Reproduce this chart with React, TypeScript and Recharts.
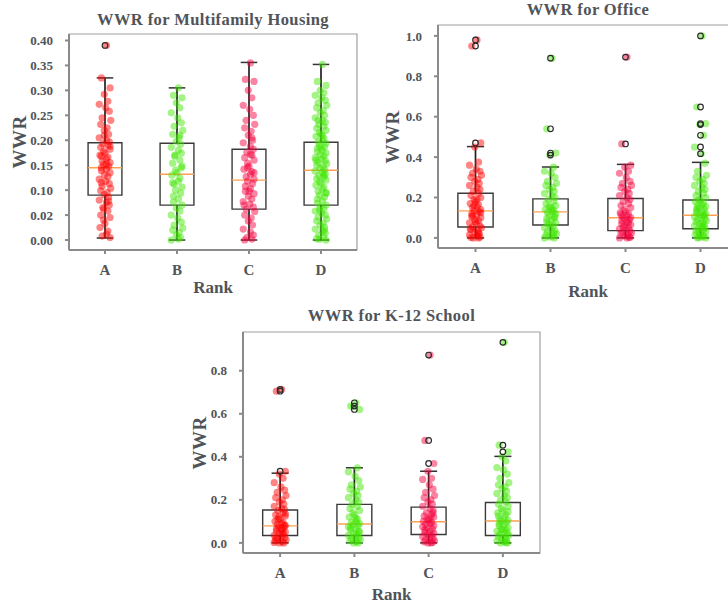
import { ScatterChart, Scatter, XAxis, YAxis, ReferenceArea, ReferenceLine } from 'recharts';

const RANKS = ['A', 'B', 'C', 'D'];
const COLORS = ['#ff0000', '#3ee600', '#f5003d', '#3ee600'];
const TEXT = '#505458';
const FONT = '"Liberation Serif", "DejaVu Serif", serif';

// horizontal strip offsets (in category units)
const JITTER = [0.02, -0.05, 0.07, -0.01, 0.04, -0.08, 0.01, 0.06, -0.04, 0.08, -0.06, 0.03, -0.01, 0.05, -0.08, 0.02, 0.06, -0.03, 0.04, -0.06, 0.07, -0.02, 0.0, -0.07, 0.04, 0.02, -0.04, 0.07, -0.02, 0.05, -0.05];

// ---- Multifamily Housing
const MF_A = [0.39, 0.325, 0.305, 0.292, 0.278, 0.272, 0.265, 0.258, 0.245, 0.24, 0.232, 0.225, 0.22, 0.212, 0.205, 0.2, 0.197, 0.193, 0.19, 0.186, 0.182, 0.178, 0.174, 0.17, 0.166, 0.162, 0.158, 0.155, 0.151, 0.148, 0.145, 0.142, 0.139, 0.135, 0.131, 0.127, 0.122, 0.118, 0.113, 0.108, 0.104, 0.099, 0.095, 0.091, 0.086, 0.08, 0.075, 0.07, 0.065, 0.058, 0.05, 0.045, 0.04, 0.033, 0.025, 0.018, 0.012, 0.008, 0.005, 0.062, 0.078, 0.115, 0.152, 0.168, 0.188, 0.21];
const MF_B = [0.305, 0.29, 0.285, 0.275, 0.265, 0.255, 0.245, 0.235, 0.228, 0.22, 0.212, 0.205, 0.198, 0.192, 0.186, 0.18, 0.174, 0.168, 0.16, 0.154, 0.148, 0.14, 0.135, 0.13, 0.124, 0.118, 0.112, 0.106, 0.1, 0.094, 0.088, 0.082, 0.076, 0.07, 0.064, 0.058, 0.05, 0.044, 0.036, 0.03, 0.024, 0.02, 0.015, 0.01, 0.005, 0.0, 0.002, 0.145, 0.17, 0.21, 0.115];
const MF_C = [0.355, 0.322, 0.318, 0.3, 0.285, 0.27, 0.262, 0.25, 0.24, 0.232, 0.225, 0.218, 0.21, 0.2, 0.195, 0.188, 0.182, 0.176, 0.17, 0.165, 0.16, 0.154, 0.148, 0.142, 0.137, 0.132, 0.127, 0.122, 0.118, 0.113, 0.108, 0.103, 0.098, 0.093, 0.088, 0.082, 0.077, 0.072, 0.066, 0.062, 0.057, 0.05, 0.044, 0.038, 0.03, 0.022, 0.016, 0.01, 0.005, 0.002, 0.0, 0.135, 0.145, 0.098, 0.07, 0.205, 0.172];
const MF_D = [0.352, 0.318, 0.31, 0.3, 0.295, 0.29, 0.285, 0.28, 0.275, 0.27, 0.265, 0.26, 0.255, 0.25, 0.245, 0.24, 0.236, 0.232, 0.228, 0.224, 0.22, 0.216, 0.212, 0.208, 0.204, 0.2, 0.197, 0.194, 0.19, 0.187, 0.184, 0.18, 0.177, 0.174, 0.171, 0.168, 0.165, 0.162, 0.159, 0.156, 0.153, 0.15, 0.147, 0.144, 0.141, 0.138, 0.135, 0.132, 0.129, 0.126, 0.123, 0.12, 0.117, 0.114, 0.11, 0.106, 0.102, 0.098, 0.094, 0.09, 0.086, 0.082, 0.078, 0.074, 0.07, 0.066, 0.062, 0.058, 0.054, 0.05, 0.046, 0.042, 0.038, 0.034, 0.03, 0.026, 0.022, 0.018, 0.014, 0.01, 0.006, 0.003, 0.0, 0.001, 0.185, 0.16, 0.13, 0.21, 0.24, 0.095, 0.06, 0.02];
const MF_Q1 = [0.09, 0.07, 0.062, 0.07];
const MF_MED = [0.145, 0.132, 0.12, 0.14];
const MF_Q3 = [0.195, 0.194, 0.182, 0.196];
const MF_LO = [0.004, 0, 0, 0];
const MF_HI = [0.325, 0.305, 0.356, 0.352];
const MF_OUT = [[0.39], [], [], []];
const MF_TICKS = [0, 0.05, 0.1, 0.15, 0.2, 0.25, 0.3, 0.35, 0.4];
const MF_TICK_LABELS = ['0.00', '0.02', '0.10', '0.15', '0.20', '0.25', '0.30', '0.35', '0.40'];

// ---- Office
const OF_A = [0.98, 0.95, 0.47, 0.45, 0.375, 0.36, 0.34, 0.33, 0.32, 0.31, 0.3, 0.29, 0.28, 0.27, 0.26, 0.25, 0.24, 0.23, 0.22, 0.21, 0.2, 0.19, 0.18, 0.17, 0.165, 0.155, 0.15, 0.14, 0.135, 0.13, 0.12, 0.115, 0.105, 0.1, 0.09, 0.085, 0.075, 0.07, 0.06, 0.055, 0.05, 0.04, 0.035, 0.03, 0.02, 0.015, 0.01, 0.005, 0.0, 0.0, 0.002, 0.125, 0.16, 0.08, 0.045, 0.025, 0.19, 0.11];
const OF_B = [0.89, 0.54, 0.42, 0.41, 0.35, 0.33, 0.32, 0.3, 0.28, 0.27, 0.26, 0.25, 0.24, 0.23, 0.22, 0.21, 0.2, 0.19, 0.18, 0.17, 0.16, 0.155, 0.15, 0.14, 0.135, 0.13, 0.125, 0.12, 0.11, 0.1, 0.095, 0.09, 0.08, 0.075, 0.065, 0.06, 0.05, 0.045, 0.035, 0.03, 0.02, 0.015, 0.01, 0.005, 0.0, 0.0, 0.145, 0.105, 0.07, 0.025];
const OF_C = [0.895, 0.465, 0.36, 0.35, 0.33, 0.32, 0.3, 0.28, 0.27, 0.26, 0.25, 0.24, 0.23, 0.22, 0.21, 0.2, 0.19, 0.18, 0.17, 0.16, 0.15, 0.14, 0.13, 0.125, 0.12, 0.11, 0.105, 0.1, 0.095, 0.09, 0.085, 0.08, 0.07, 0.065, 0.06, 0.05, 0.045, 0.04, 0.035, 0.03, 0.025, 0.02, 0.015, 0.01, 0.005, 0.0, 0.0, 0.002, 0.055, 0.075, 0.115];
const OF_D = [1.0, 0.648, 0.566, 0.561, 0.508, 0.45, 0.417, 0.37, 0.33, 0.31, 0.3, 0.29, 0.28, 0.27, 0.26, 0.25, 0.24, 0.23, 0.22, 0.21, 0.2, 0.19, 0.185, 0.18, 0.17, 0.165, 0.16, 0.155, 0.15, 0.14, 0.135, 0.13, 0.125, 0.12, 0.115, 0.11, 0.105, 0.1, 0.095, 0.09, 0.085, 0.08, 0.075, 0.07, 0.065, 0.06, 0.055, 0.05, 0.045, 0.04, 0.035, 0.03, 0.025, 0.02, 0.015, 0.01, 0.005, 0.0, 0.0, 0.002, 0.112, 0.145, 0.06];
const OF_Q1 = [0.054, 0.064, 0.036, 0.045];
const OF_MED = [0.134, 0.129, 0.1, 0.112];
const OF_Q3 = [0.221, 0.193, 0.195, 0.188];
const OF_LO = [0, 0, 0, 0];
const OF_HI = [0.452, 0.351, 0.364, 0.374];
const OF_OUT = [[0.47, 0.95, 0.98], [0.41, 0.42, 0.54, 0.89], [0.465, 0.895], [0.417, 0.45, 0.508, 0.561, 0.566, 0.648, 1.0]];
const OF_TICKS = [0, 0.2, 0.4, 0.6, 0.8, 1.0];
const OF_TICK_LABELS = ['0.0', '0.2', '0.4', '0.6', '0.8', '1.0'];

// ---- K-12 School
const KS_A = [0.713, 0.705, 0.333, 0.32, 0.3, 0.28, 0.26, 0.245, 0.235, 0.22, 0.21, 0.2, 0.19, 0.18, 0.17, 0.16, 0.155, 0.15, 0.14, 0.13, 0.125, 0.12, 0.11, 0.1, 0.095, 0.09, 0.085, 0.08, 0.075, 0.07, 0.065, 0.06, 0.055, 0.05, 0.045, 0.04, 0.035, 0.03, 0.025, 0.02, 0.015, 0.01, 0.005, 0.0, 0.0, 0.002, 0.065, 0.082, 0.11, 0.045, 0.022, 0.135];
const KS_B = [0.651, 0.636, 0.62, 0.635, 0.349, 0.33, 0.31, 0.29, 0.27, 0.26, 0.25, 0.24, 0.23, 0.22, 0.21, 0.2, 0.19, 0.18, 0.17, 0.16, 0.15, 0.14, 0.13, 0.12, 0.11, 0.1, 0.095, 0.09, 0.085, 0.08, 0.07, 0.065, 0.06, 0.05, 0.045, 0.04, 0.035, 0.03, 0.025, 0.02, 0.015, 0.01, 0.005, 0.0, 0.0, 0.075, 0.115, 0.055];
const KS_C = [0.873, 0.476, 0.369, 0.333, 0.3, 0.295, 0.27, 0.25, 0.235, 0.22, 0.21, 0.2, 0.19, 0.18, 0.17, 0.16, 0.15, 0.14, 0.13, 0.125, 0.12, 0.11, 0.105, 0.1, 0.095, 0.09, 0.085, 0.08, 0.07, 0.065, 0.06, 0.055, 0.05, 0.045, 0.04, 0.035, 0.03, 0.025, 0.02, 0.015, 0.01, 0.005, 0.0, 0.0, 0.002, 0.075, 0.115, 0.14];
const KS_D = [0.932, 0.454, 0.423, 0.4, 0.38, 0.35, 0.34, 0.32, 0.3, 0.28, 0.27, 0.26, 0.25, 0.24, 0.23, 0.22, 0.21, 0.2, 0.19, 0.18, 0.17, 0.16, 0.15, 0.14, 0.13, 0.12, 0.11, 0.105, 0.1, 0.095, 0.09, 0.085, 0.08, 0.07, 0.065, 0.06, 0.055, 0.05, 0.045, 0.04, 0.035, 0.03, 0.025, 0.02, 0.015, 0.01, 0.005, 0.0, 0.0, 0.002, 0.125, 0.145, 0.062];
const KS_Q1 = [0.034, 0.034, 0.039, 0.034];
const KS_MED = [0.079, 0.088, 0.098, 0.102];
const KS_Q3 = [0.153, 0.179, 0.166, 0.188];
const KS_LO = [0, 0, 0, 0];
const KS_HI = [0.324, 0.349, 0.333, 0.402];
const KS_OUT = [[0.333, 0.705, 0.713], [0.62, 0.636, 0.651], [0.369, 0.476, 0.873], [0.423, 0.454, 0.932]];
const KS_TICKS = [0, 0.2, 0.4, 0.6, 0.8];
const KS_TICK_LABELS = ['0.0', '0.2', '0.4', '0.6', '0.8'];

type PanelProps = {
  title: string;
  groups: number[][];
  q1: number[];
  med: number[];
  q3: number[];
  lo: number[];
  hi: number[];
  outliers: number[][];
  yDomain: [number, number];
  yTicks: number[];
  yTickLabels: string[];
  left: number;
  top: number;
  width: number;
  height: number;
  margin: { top: number; right: number; bottom: number; left: number };
  titleY: number;
  yLabelX: number;
  rankY: number;
};

const Dot = (color: string) => (p: any) => (
  <circle cx={p.cx} cy={p.cy} r={3.6} fill={color} fillOpacity={0.48} />
);
const Ring = (p: any) => <circle cx={p.cx} cy={p.cy} r={2.8} fill="none" stroke="#2a2a2a" strokeWidth={1.2} />;

function Panel(props: PanelProps) {
  const { groups, q1, med, q3, lo, hi, outliers, yDomain, yTicks, yTickLabels, margin, width, height } = props;
  const yAxisW = 40;
  const plotL = props.left + margin.left + yAxisW;
  const plotR = props.left + width - margin.right;
  const plotT = props.top + margin.top;
  const plotB = props.top + height - margin.bottom - 30;
  const cx = (plotL + plotR) / 2;
  const label = (style: React.CSSProperties, text: string) => (
    <div style={{ position: 'absolute', fontFamily: FONT, fontWeight: 700, color: TEXT, whiteSpace: 'nowrap', ...style }}>{text}</div>
  );
  return (
    <>
      <div style={{ position: 'absolute', left: props.left, top: props.top }}>
        <ScatterChart width={width} height={height} margin={margin}>
          <XAxis
            type="number"
            dataKey="x"
            domain={[0.5, 4.5]}
            ticks={[1, 2, 3, 4]}
            tickFormatter={(v: number) => RANKS[v - 1]}
            allowDataOverflow
            height={30}
            tickSize={4}
            tickMargin={10}
            stroke="#8a8a8a"
            strokeWidth={2}
            tick={{ fill: TEXT, fontFamily: FONT, fontWeight: 700, fontSize: 15 }}
          />
          <YAxis
            type="number"
            dataKey="y"
            domain={yDomain}
            ticks={yTicks}
            tickFormatter={(v: number) => yTickLabels[yTicks.indexOf(v)] ?? ''}
            allowDataOverflow
            width={yAxisW}
            tickSize={4}
            tickMargin={12}
            stroke="#8a8a8a"
            strokeWidth={2}
            tick={{ fill: TEXT, fontFamily: FONT, fontWeight: 700, fontSize: 13 }}
          />
          <ReferenceArea x1={0.5} x2={4.5} y1={yDomain[0]} y2={yDomain[1]} fill="none" stroke="#a0a0a0" strokeWidth={1.2} />
          {groups.map((vals, gi) => (
            <Scatter
              key={'s' + gi}
              data={vals.map((y, k) => ({ x: gi + 1 + JITTER[k % JITTER.length], y }))}
              shape={Dot(COLORS[gi])}
              isAnimationActive={false}
            />
          ))}
          {RANKS.map((_, gi) => {
            const x = gi + 1;
            return [
              <ReferenceArea key={'b' + gi} x1={x - 0.235} x2={x + 0.235} y1={q1[gi]} y2={q3[gi]} fill="none" stroke="#3a3a3a" strokeWidth={1.4} ifOverflow="visible" />,
              <ReferenceLine key={'m' + gi} segment={[{ x: x - 0.235, y: med[gi] }, { x: x + 0.235, y: med[gi] }]} stroke="#ffa050" strokeWidth={1.4} />,
              <ReferenceLine key={'wh' + gi} segment={[{ x, y: q3[gi] }, { x, y: hi[gi] }]} stroke="#222" strokeWidth={1.7} />,
              <ReferenceLine key={'wl' + gi} segment={[{ x, y: lo[gi] }, { x, y: q1[gi] }]} stroke="#222" strokeWidth={1.7} />,
              <ReferenceLine key={'ch' + gi} segment={[{ x: x - 0.115, y: hi[gi] }, { x: x + 0.115, y: hi[gi] }]} stroke="#333" strokeWidth={1.5} />,
              <ReferenceLine key={'cl' + gi} segment={[{ x: x - 0.115, y: lo[gi] }, { x: x + 0.115, y: lo[gi] }]} stroke="#333" strokeWidth={1.5} />,
            ];
          })}
          {outliers.map((vals, gi) => (
            <Scatter key={'o' + gi} data={vals.map((y) => ({ x: gi + 1, y }))} shape={Ring} isAnimationActive={false} />
          ))}
        </ScatterChart>
      </div>
      {label({ left: cx, top: props.titleY, transform: 'translate(-50%, -50%)', fontSize: 16.5, letterSpacing: 0.4 }, props.title)}
      {label({ left: props.yLabelX, top: (plotT + plotB) / 2, transform: 'translate(-50%, -50%) rotate(-90deg)', fontSize: 19, letterSpacing: 0.5 }, 'WWR')}
      {label({ left: cx, top: props.rankY, transform: 'translate(-50%, -50%)', fontSize: 17 }, 'Rank')}
    </>
  );
}

export default function App() {
  return (
    <div style={{ position: 'absolute', left: 0, top: 0, width: 728, height: 604, overflow: 'hidden', background: '#fff' }}>
      <Panel
        title="WWR for Multifamily Housing"
        groups={[MF_A, MF_B, MF_C, MF_D]}
        q1={MF_Q1} med={MF_MED} q3={MF_Q3} lo={MF_LO} hi={MF_HI} outliers={MF_OUT}
        yDomain={[-0.02, 0.413]} yTicks={MF_TICKS} yTickLabels={MF_TICK_LABELS}
        left={0} top={0} width={360} height={300}
        margin={{ top: 34, right: 3, bottom: 20, left: 29 }}
        titleY={20} yLabelX={20} rankY={288}
      />
      <Panel
        title="WWR for Office"
        groups={[OF_A, OF_B, OF_C, OF_D]}
        q1={OF_Q1} med={OF_MED} q3={OF_Q3} lo={OF_LO} hi={OF_HI} outliers={OF_OUT}
        yDomain={[-0.05, 1.054]} yTicks={OF_TICKS} yTickLabels={OF_TICK_LABELS}
        left={360} top={0} width={378} height={300}
        margin={{ top: 25, right: 0, bottom: 22, left: 38 }}
        titleY={10} yLabelX={393} rankY={292}
      />
      <Panel
        title="WWR for K-12 School"
        groups={[KS_A, KS_B, KS_C, KS_D]}
        q1={KS_Q1} med={KS_MED} q3={KS_Q3} lo={KS_LO} hi={KS_HI} outliers={KS_OUT}
        yDomain={[-0.047, 0.98]} yTicks={KS_TICKS} yTickLabels={KS_TICK_LABELS}
        left={190} top={300} width={360} height={304}
        margin={{ top: 32, right: 10, bottom: 21, left: 13 }}
        titleY={316} yLabelX={200} rankY={595}
      />
    </div>
  );
}
